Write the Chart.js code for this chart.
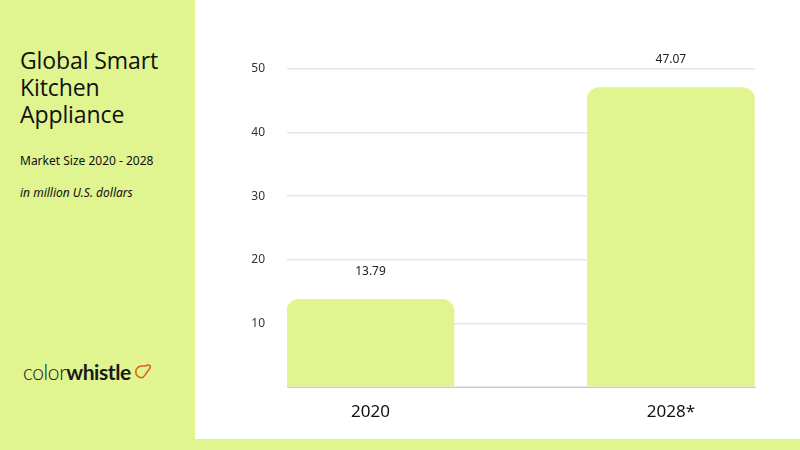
<!DOCTYPE html>
<html>
<head>
<meta charset="utf-8">
<script src="https://cdn.jsdelivr.net/npm/chart.js@4"></script>
<style>
  html, body { margin: 0; padding: 0; }
  body { width: 800px; height: 450px; background: #e0f490; position: relative; overflow: hidden; font-family: "Noto Sans", "Open Sans", sans-serif; }
  #panel { position: absolute; left: 195px; top: 0; width: 605px; height: 439px; background: #ffffff; }
  #chartwrap { position: absolute; left: 0; top: 0; width: 605px; height: 439px; }
  .title { position: absolute; left: 20px; top: 47px; font-size: 23px; line-height: 27px; color: #111; font-family: "Open Sans", "Noto Sans", sans-serif; letter-spacing: -0.1px; }
  .sub { position: absolute; left: 20px; top: 152px; font-size: 12px; color: #111; }
  .unit { position: absolute; left: 20px; top: 184px; font-size: 12px; color: #111; font-style: italic; }
  .logo { position: absolute; left: 23px; top: 359px; font-size: 21px; color: #1a1a1a; font-family: "Lato", "Noto Sans", sans-serif; letter-spacing: -0.4px; }
  .logo .a { font-weight: 300; }
  .logo .b { font-weight: 700; }
  .logo svg { position: absolute; left: 110px; top: 3px; }
</style>
</head>
<body>
<div class="title">Global Smart<br>Kitchen<br>Appliance</div>
<div class="sub">Market Size 2020 - 2028</div>
<div class="unit">in million U.S. dollars</div>
<div class="logo"><span class="a">color</span><span class="b">whistle</span>
  <svg width="20" height="20" viewBox="0 0 20 20"><path d="M3 8 Q2 13 6 15 Q10 17 12 13 L17 6 Q18 3 15 3 L12 4 L9 4 Q5 4 3 8 Z" fill="none" stroke="#e0611a" stroke-width="1.6" stroke-linejoin="round"/></svg>
</div>
<div id="panel"><div id="chartwrap"><canvas id="c"></canvas></div></div>
<script>
const categories = ['2020', '2028*'];
const marketSize = [13.79, 47.07];
const yTicks = [10, 20, 30, 40, 50];

const barColor = '#e0f490';

const valueLabels = {
  id: 'valueLabels',
  afterDatasetsDraw(chart) {
    const ctx = chart.ctx;
    const meta = chart.getDatasetMeta(0);
    ctx.save();
    ctx.font = '12px "Noto Sans", sans-serif';
    ctx.fillStyle = '#222';
    ctx.textAlign = 'center';
    ctx.textBaseline = 'middle';
    meta.data.forEach((bar, i) => {
      ctx.fillText(marketSize[i].toFixed(2), bar.x, bar.y - 28);
    });
    ctx.restore();
  }
};

new Chart(document.getElementById('c'), {
  type: 'bar',
  data: {
    datasets: [{
      data: marketSize.map((v, i) => ({ x: i, y: v })),
      backgroundColor: barColor,
      borderRadius: { topLeft: 12, topRight: 12, bottomLeft: 0, bottomRight: 0 },
      borderSkipped: 'bottom',
      barThickness: 167
    }]
  },
  options: {
    responsive: true,
    maintainAspectRatio: false,
    animation: false,
    layout: { padding: { top: 69, right: 45, left: 0, bottom: 0 } },
    plugins: { legend: { display: false }, tooltip: { enabled: false } },
    scales: {
      x: {
        type: 'linear',
        offset: false,
        min: -0.278,
        max: 1.28,
        afterBuildTicks(scale) { scale.ticks = categories.map((_, i) => ({ value: i })); },
        afterFit(scale) { scale.height = 52; },
        ticks: {
          callback: (v) => categories[v],
          font: { size: 17, family: '"Noto Sans", sans-serif' },
          color: '#111',
          padding: 15,
          autoSkip: false,
          maxRotation: 0
        },
        grid: { display: false, drawTicks: false, offset: false },
        border: { display: true, color: '#cccccc', width: 1 }
      },
      y: {
        min: 0,
        max: 50,
        afterBuildTicks(scale) { scale.ticks = [0].concat(yTicks).map(v => ({ value: v })); },
        afterFit(scale) { scale.width = 92; },
        ticks: {
          callback: (v) => (yTicks.includes(v) ? String(v) : ''),
          font: { size: 12, family: '"Noto Sans", sans-serif' },
          color: '#333',
          padding: 22
        },
        grid: { color: '#e6e6e6', lineWidth: 1.5, drawTicks: false },
        border: { display: false }
      }
    }
  },
  plugins: [valueLabels]
});
</script>
</body>
</html>
